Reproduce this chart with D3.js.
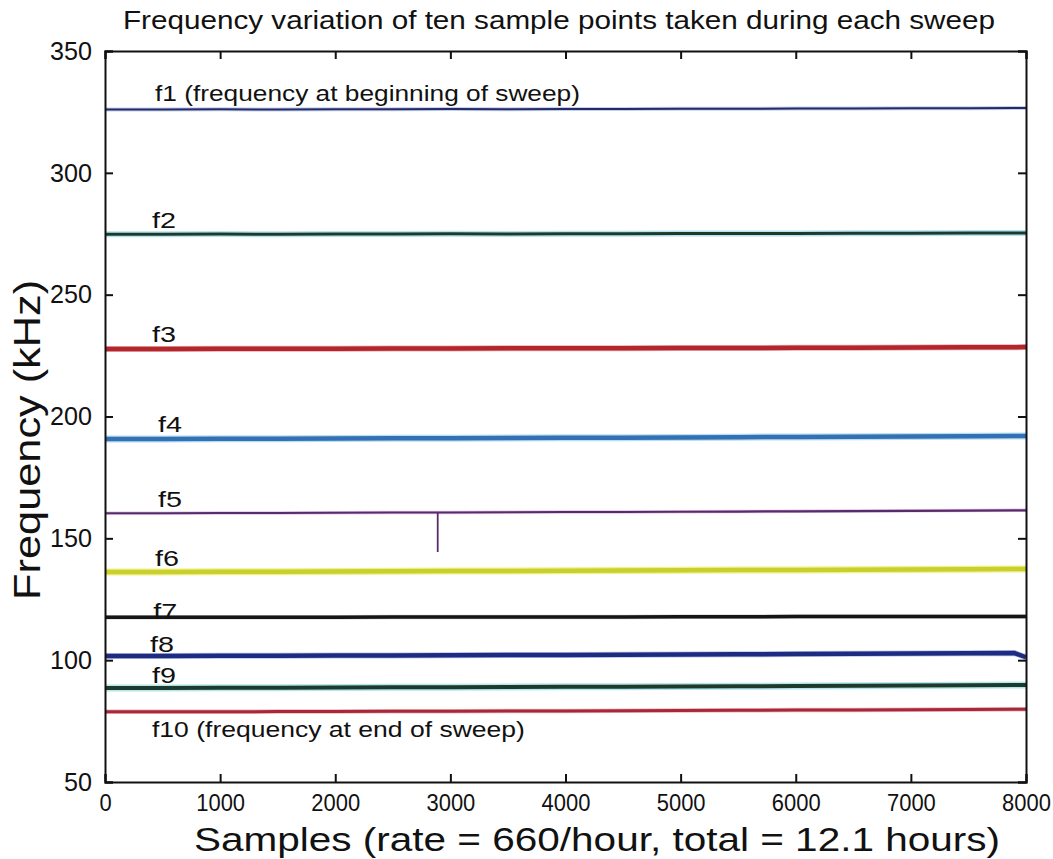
<!DOCTYPE html>
<meta charset="utf-8">
<style>
body { margin: 0; background: #fff; }
.tick text { font-family: "Liberation Sans", Arial, sans-serif; font-size: 26px; fill: #111; }
.axis path, .axis line { stroke: #111; stroke-width: 2px; }
</style>
<body>
<script src="https://d3js.org/d3.v7.min.js"></script>
<script>

var samples = [0, 500, 1000, 1500, 2000, 2500, 3000, 3500, 4000, 4500, 5000, 5500, 6000, 6500, 7000, 7500, 7900, 8000];

// frequency (kHz) of each sample point, per sweep position
var f1  = [326.0, 326.0, 326.1, 326.0, 326.1, 326.1, 326.2, 326.1, 326.2, 326.2, 326.3, 326.3, 326.4, 326.4, 326.5, 326.5, 326.6, 326.6];
var f2  = [274.8, 274.8, 274.9, 274.8, 274.9, 274.9, 275.0, 274.9, 275.0, 275.0, 275.1, 275.1, 275.1, 275.2, 275.2, 275.3, 275.3, 275.3];
var f3  = [227.7, 227.7, 227.8, 227.8, 227.8, 227.9, 227.9, 228.0, 228.0, 228.0, 228.1, 228.1, 228.2, 228.2, 228.3, 228.4, 228.4, 228.5];
var f4  = [190.8, 190.8, 190.9, 190.9, 191.0, 191.1, 191.1, 191.2, 191.3, 191.3, 191.4, 191.5, 191.6, 191.7, 191.8, 191.9, 192.0, 192.0];
var f5  = [160.3, 160.3, 160.4, 160.4, 160.5, 160.6, 160.6, 160.7, 160.8, 160.8, 160.9, 161.0, 161.1, 161.2, 161.3, 161.4, 161.5, 161.5];
var f6  = [136.2, 136.2, 136.3, 136.3, 136.4, 136.5, 136.6, 136.6, 136.7, 136.8, 136.9, 137.0, 137.0, 137.1, 137.2, 137.3, 137.4, 137.4];
var f7  = [117.6, 117.6, 117.6, 117.6, 117.6, 117.7, 117.7, 117.7, 117.7, 117.7, 117.8, 117.8, 117.9, 117.9, 117.9, 117.9, 117.9, 117.9];
var f8  = [101.7, 101.7, 101.8, 101.8, 101.9, 101.9, 102.0, 102.1, 102.1, 102.2, 102.3, 102.4, 102.5, 102.6, 102.7, 102.8, 102.9, 101.2];
var f9  = [88.6, 88.6, 88.7, 88.7, 88.8, 88.9, 88.9, 89.0, 89.1, 89.1, 89.2, 89.3, 89.4, 89.5, 89.6, 89.7, 89.8, 89.8];
var f10 = [78.8, 78.8, 78.8, 78.9, 78.9, 79.0, 79.0, 79.1, 79.1, 79.2, 79.3, 79.4, 79.5, 79.6, 79.7, 79.8, 79.9, 79.9];

var seriesValues = [f1, f2, f3, f4, f5, f6, f7, f8, f9, f10];
var seriesLabels = ["f1 (frequency at beginning of sweep)", "f2", "f3", "f4", "f5", "f6", "f7", "f8", "f9",
                    "f10 (frequency at end of sweep)"];

// single glitch on f5 around sample 2890
var glitchSample = 2890, glitchValue = 144.4;

var xTicks = [0, 1000, 2000, 3000, 4000, 5000, 6000, 7000, 8000];
var yTicks = [50, 100, 150, 200, 250, 300, 350];

// styles
var lineColor = ["#1f2b6a", "#1e3a2c", "#b3262e", "#3470b3", "#5b2a6b", "#c9cf2c", "#151515", "#1d2b80", "#1d3a2a", "#a8283a"];
var haloColor = ["#c8cfe8", "#b4e4ee", "#e8b0b0", "#b4e0f2", "#e0c8ea", "#eef28c", "#cccccc", "#b8c4ee", "#b4e6ef", "#ecb8c0"];
var lineWidth = [2, 3, 4.5, 4.5, 2.2, 4.5, 3.5, 4.5, 4, 3];
var haloWidth = [4, 6, 6, 7, 3.5, 7, 4.5, 6, 7, 4.5];
// label anchor in data units (sample, kHz) and label text width
var labelPos = [[434, 329.5], [408, 277.2], [408, 230.6], [460, 193.7], [460, 162.9], [434, 138.7],
                [420, 116.9], [390, 103.3], [408, 90.7], [408, 68.5]];
var labelLen = [425, 24, 24, 24, 24, 24, 24, 24, 24, 373];

var margin = {top: 51, right: 27, bottom: 77, left: 105},
    width = 1053 - margin.left - margin.right,
    height = 859 - margin.top - margin.bottom;

var x = d3.scaleLinear().domain([0, 8000]).range([0, width]);
var y = d3.scaleLinear().domain([50, 350]).range([height, 0]);

var svg = d3.select("body").append("svg")
    .attr("width", 1053)
    .attr("height", 859)
  .append("g")
    .attr("transform", "translate(" + margin.left + "," + margin.top + ")");

// title
svg.append("text")
    .attr("x", 559 - margin.left)
    .attr("y", -22)
    .attr("text-anchor", "middle")
    .attr("textLength", 872)
    .attr("lengthAdjust", "spacingAndGlyphs")
    .style("font-family", "'Liberation Sans', Arial, sans-serif")
    .style("font-size", "25px")
    .style("fill", "#111")
    .text("Frequency variation of ten sample points taken during each sweep");

var line = d3.line()
    .x(function(d, i) { return x(samples[i]); })
    .y(function(d) { return y(d); });

seriesValues.forEach(function(vals, k) {
  svg.append("path")
      .datum(vals)
      .attr("fill", "none")
      .attr("stroke", haloColor[k])
      .attr("stroke-width", haloWidth[k])
      .attr("d", line);
  svg.append("path")
      .datum(vals)
      .attr("fill", "none")
      .attr("stroke", lineColor[k])
      .attr("stroke-width", lineWidth[k])
      .attr("d", line);
});

// the f5 glitch
svg.append("line")
    .attr("x1", x(glitchSample)).attr("x2", x(glitchSample))
    .attr("y1", y(f5[6])).attr("y2", y(glitchValue))
    .attr("stroke", lineColor[4])
    .attr("stroke-width", 1.8);

// series labels
svg.selectAll(".slabel")
    .data(seriesLabels)
  .enter().append("text")
    .attr("class", "slabel")
    .attr("x", function(d, i) { return x(labelPos[i][0]); })
    .attr("y", function(d, i) { return y(labelPos[i][1]); })
    .attr("textLength", function(d, i) { return labelLen[i]; })
    .attr("lengthAdjust", "spacingAndGlyphs")
    .style("font-family", "'Liberation Sans', Arial, sans-serif")
    .style("font-size", "22px")
    .style("fill", "#111")
    .text(function(d) { return d; });

// axes, ticks pointing inward, on all four sides
var gx = svg.append("g")
    .attr("class", "axis")
    .attr("transform", "translate(0," + height + ")")
    .call(d3.axisBottom(x).tickValues(xTicks).tickSize(-8).tickPadding(13).tickFormat(d3.format("d")));
svg.append("g")
    .attr("class", "axis")
    .call(d3.axisTop(x).tickValues(xTicks).tickSize(-8).tickFormat(""));
var gy = svg.append("g")
    .attr("class", "axis")
    .call(d3.axisLeft(y).tickValues(yTicks).tickSize(-8).tickPadding(13).tickFormat(d3.format("d")));
svg.append("g")
    .attr("class", "axis")
    .attr("transform", "translate(" + width + ",0)")
    .call(d3.axisRight(y).tickValues(yTicks).tickSize(-8).tickFormat(""));

svg.selectAll(".axis .domain").attr("stroke-width", 2.5);

// condensed look of the tick numbers
gx.selectAll(".tick text")
    .style("font-size", "23px")
    .attr("textLength", function(d) { return String(d).length * 12.2; })
    .attr("lengthAdjust", "spacingAndGlyphs");
gy.selectAll(".tick text")
    .attr("textLength", function(d) { return String(d).length * 14; })
    .attr("lengthAdjust", "spacingAndGlyphs");

// axis labels
svg.append("text")
    .attr("x", 597 - margin.left)
    .attr("y", height + 69)
    .attr("text-anchor", "middle")
    .attr("textLength", 806)
    .attr("lengthAdjust", "spacingAndGlyphs")
    .style("font-family", "'Liberation Sans', Arial, sans-serif")
    .style("font-size", "33px")
    .style("fill", "#111")
    .text("Samples (rate = 660/hour, total = 12.1 hours)");

svg.append("text")
    .attr("transform", "translate(" + (-margin.left + 40) + "," + (y(190.4)) + ") rotate(-90)")
    .attr("text-anchor", "middle")
    .attr("textLength", 320)
    .attr("lengthAdjust", "spacingAndGlyphs")
    .style("font-family", "'Liberation Sans', Arial, sans-serif")
    .style("font-size", "36px")
    .style("fill", "#111")
    .text("Frequency (kHz)");

</script>
</body>
